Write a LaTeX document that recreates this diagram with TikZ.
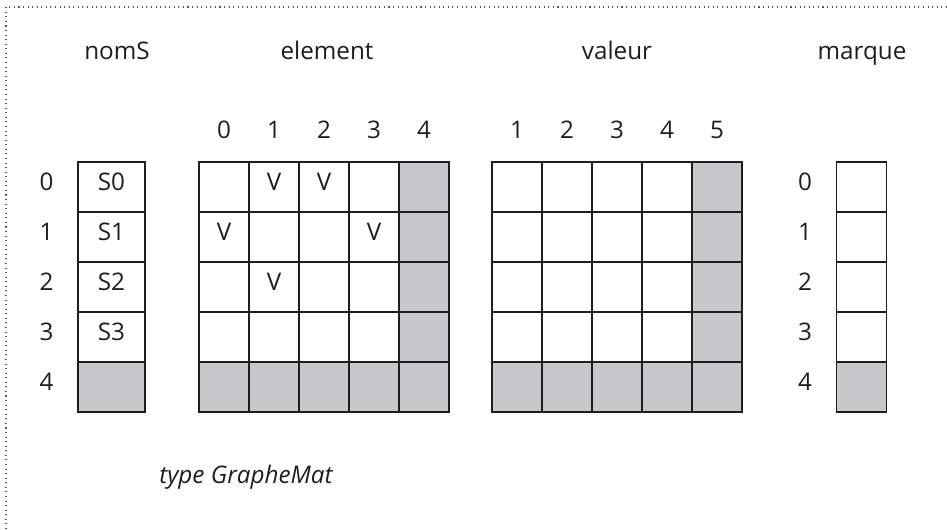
\documentclass[tikz,border=0pt]{standalone}
\usepackage{fontspec}
\setmainfont{Open Sans}
\usetikzlibrary{positioning}
\definecolor{fondgris}{RGB}{199,200,202}
\definecolor{trait}{RGB}{30,30,30}

\begin{document}
\begin{tikzpicture}[
    x=0.02cm, y=-0.02cm,
    every node/.style={font=\fontsize{13.8}{16}\selectfont, text=trait,
        text height=7.5pt, text depth=3.8pt, inner sep=0pt},
    case/.style={draw=trait, line width=0.7pt, minimum width=1cm, minimum height=1cm},
    grise/.style={case, fill=fondgris},
    titre/.style={anchor=base},
    cadre/.style={draw=trait!75, dotted, line width=0.6pt}
]
\useasboundingbox (0,0) rectangle (947,529);
\draw[cadre] (6,529) -- (6,7) -- (947,7);

% titres
\node[titre] (tnom) at (117,59) {nomS};
\node[titre] (telem) at (327,59) {element};
\node[titre] (tval) at (617,59) {valeur};
\node[titre] (tmarq) at (862,59) {marque};

% nomS
\foreach \i in {0,...,3}
    \node[case, minimum width=1.34cm] (n\i) at (111.5,187+50*\i) {S\i};
\node[grise, minimum width=1.34cm] (n4) at (111.5,387) {};
\foreach \i in {0,...,4}
    \node[left=0.47cm of n\i] (rn\i) {\i};

% element
\foreach \r in {0,...,3}
    \foreach \c in {0,...,3}
        \node[case] (e\r\c) at (224+50*\c,187+50*\r) {};
\foreach \r in {0,...,4}
    \node[grise] (e\r4) at (424,187+50*\r) {};
\foreach \c in {0,...,3}
    \node[grise] (e4\c) at (224+50*\c,387) {};
\foreach \r/\c in {0/1,0/2,1/0,1/3,2/1}
    \node (x\r\c) at (e\r\c) {V};
\foreach \c in {0,...,4}
    \node[above=0.32cm of e0\c] (ce\c) {\c};

% valeur
\foreach \r in {0,...,3}
    \foreach \c in {0,...,3}
        \node[case] (w\r\c) at (517+50*\c,187+50*\r) {};
\foreach \r in {0,...,4}
    \node[grise] (w\r4) at (717,187+50*\r) {};
\foreach \c in {0,...,3}
    \node[grise] (w4\c) at (517+50*\c,387) {};
\foreach \c [evaluate=\c as \k using int(\c+1)] in {0,...,4}
    \node[above=0.32cm of w0\c] (cw\c) {\k};

% marque
\foreach \i in {0,...,3}
    \node[case] (m\i) at (861.5,187+50*\i) {};
\node[grise] (m4) at (861.5,387) {};
\foreach \i in {0,...,4}
    \node[left=0.47cm of m\i] (rm\i) {\i};

\node[titre, font=\fontsize{13.8}{16}\selectfont\itshape] (type) at (246,483) {type GrapheMat};
\end{tikzpicture}
\end{document}
